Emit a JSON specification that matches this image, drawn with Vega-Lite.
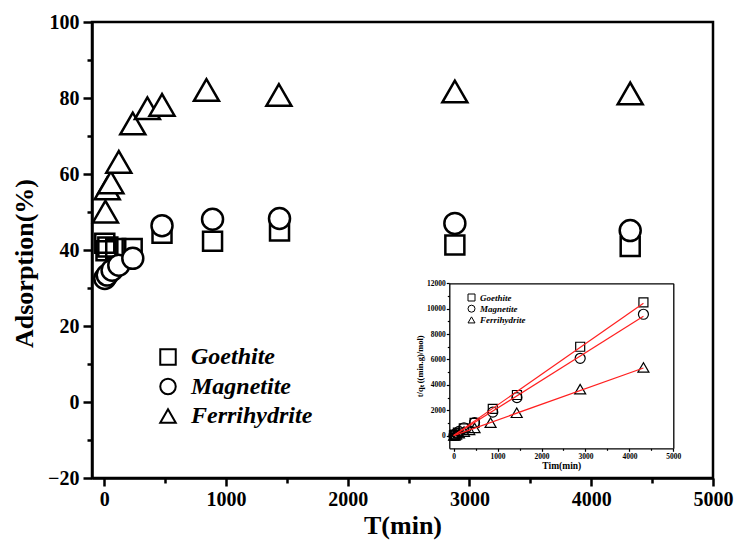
{
  "$schema": "https://vega.github.io/schema/vega-lite/v6.json",
  "width": 621,
  "height": 456,
  "autosize": {"type": "none"},
  "padding": {"left": 92, "top": 22, "right": 22, "bottom": 67},
  "background": "white",
  "config": {
    "view": {"stroke": "black", "strokeWidth": 2.5},
    "font": "Liberation Serif",
    "axis": {
      "grid": false,
      "domainColor": "black",
      "tickColor": "black",
      "labelColor": "black",
      "titleColor": "black",
      "labelFont": "Liberation Serif",
      "titleFont": "Liberation Serif",
      "labelFontWeight": "bold",
      "titleFontWeight": "bold",
      "labelFlush": false,
      "labelOverlap": false
    }
  },
  "datasets": {
    "main": [
      {"mineral": "Goethite", "t": 5, "ads": 41.8},
      {"mineral": "Goethite", "t": 15, "ads": 39.8},
      {"mineral": "Goethite", "t": 30, "ads": 40.8},
      {"mineral": "Goethite", "t": 95, "ads": 40.4},
      {"mineral": "Goethite", "t": 230, "ads": 40.4},
      {"mineral": "Goethite", "t": 475, "ads": 44.4},
      {"mineral": "Goethite", "t": 890, "ads": 42.3},
      {"mineral": "Goethite", "t": 1440, "ads": 45.0},
      {"mineral": "Goethite", "t": 2880, "ads": 41.3},
      {"mineral": "Goethite", "t": 4320, "ads": 40.9},
      {"mineral": "Magnetite", "t": 5, "ads": 32.5},
      {"mineral": "Magnetite", "t": 25, "ads": 33.4},
      {"mineral": "Magnetite", "t": 65, "ads": 34.7},
      {"mineral": "Magnetite", "t": 120, "ads": 36.0},
      {"mineral": "Magnetite", "t": 235, "ads": 37.8},
      {"mineral": "Magnetite", "t": 475, "ads": 46.4},
      {"mineral": "Magnetite", "t": 890, "ads": 48.1},
      {"mineral": "Magnetite", "t": 1440, "ads": 48.3},
      {"mineral": "Magnetite", "t": 2880, "ads": 47.0},
      {"mineral": "Magnetite", "t": 4320, "ads": 45.1},
      {"mineral": "Ferrihydrite", "t": 10, "ads": 50.1},
      {"mineral": "Ferrihydrite", "t": 25, "ads": 56.2},
      {"mineral": "Ferrihydrite", "t": 55, "ads": 57.8},
      {"mineral": "Ferrihydrite", "t": 120, "ads": 63.2},
      {"mineral": "Ferrihydrite", "t": 235, "ads": 73.3},
      {"mineral": "Ferrihydrite", "t": 355, "ads": 77.3},
      {"mineral": "Ferrihydrite", "t": 475, "ads": 78.2},
      {"mineral": "Ferrihydrite", "t": 840, "ads": 82.1},
      {"mineral": "Ferrihydrite", "t": 1435, "ads": 80.8},
      {"mineral": "Ferrihydrite", "t": 2880, "ads": 81.7},
      {"mineral": "Ferrihydrite", "t": 4320, "ads": 81.2}
    ],
    "inset": [
      {"mineral": "Goethite", "t": 5, "q": 12},
      {"mineral": "Goethite", "t": 15, "q": 38},
      {"mineral": "Goethite", "t": 30, "q": 74},
      {"mineral": "Goethite", "t": 95, "q": 235},
      {"mineral": "Goethite", "t": 230, "q": 570},
      {"mineral": "Goethite", "t": 475, "q": 1000},
      {"mineral": "Goethite", "t": 890, "q": 2100},
      {"mineral": "Goethite", "t": 1440, "q": 3200},
      {"mineral": "Goethite", "t": 2880, "q": 7000},
      {"mineral": "Goethite", "t": 4320, "q": 10500},
      {"mineral": "Magnetite", "t": 5, "q": 15},
      {"mineral": "Magnetite", "t": 25, "q": 75},
      {"mineral": "Magnetite", "t": 65, "q": 187},
      {"mineral": "Magnetite", "t": 120, "q": 333},
      {"mineral": "Magnetite", "t": 235, "q": 620},
      {"mineral": "Magnetite", "t": 475, "q": 1030},
      {"mineral": "Magnetite", "t": 890, "q": 1850},
      {"mineral": "Magnetite", "t": 1440, "q": 3000},
      {"mineral": "Magnetite", "t": 2880, "q": 6090},
      {"mineral": "Magnetite", "t": 4320, "q": 9560},
      {"mineral": "Ferrihydrite", "t": 10, "q": 20},
      {"mineral": "Ferrihydrite", "t": 25, "q": 45},
      {"mineral": "Ferrihydrite", "t": 55, "q": 95},
      {"mineral": "Ferrihydrite", "t": 120, "q": 190},
      {"mineral": "Ferrihydrite", "t": 235, "q": 320},
      {"mineral": "Ferrihydrite", "t": 355, "q": 460},
      {"mineral": "Ferrihydrite", "t": 475, "q": 610},
      {"mineral": "Ferrihydrite", "t": 840, "q": 1020},
      {"mineral": "Ferrihydrite", "t": 1435, "q": 1800},
      {"mineral": "Ferrihydrite", "t": 2880, "q": 3660},
      {"mineral": "Ferrihydrite", "t": 4320, "q": 5370}
    ],
    "fit": [
      {"mineral": "Goethite", "t": 0, "q": 0},
      {"mineral": "Goethite", "t": 4320, "q": 10420},
      {"mineral": "Magnetite", "t": 0, "q": 0},
      {"mineral": "Magnetite", "t": 4320, "q": 9400},
      {"mineral": "Ferrihydrite", "t": 0, "q": 0},
      {"mineral": "Ferrihydrite", "t": 4320, "q": 5330}
    ]
  },
  "layer": [
    {
      "data": {"name": "main"},
      "layer": [
        {
          "transform": [{"filter": "datum.mineral === 'Goethite'"}],
          "mark": {"type": "point", "filled": false, "stroke": "black", "strokeWidth": 2.5, "opacity": 1, "size": 361},
          "encoding": {
            "x": {
              "field": "t", "type": "quantitative",
              "scale": {"domain": [-100, 5000], "nice": false, "zero": false},
              "axis": {"orient": "bottom", "values": [0, 1000, 2000, 3000, 4000, 5000], "format": "d", "title": "T(min)", "titleFontSize": 26, "labelFontSize": 20, "domainWidth": 2.5, "tickWidth": 2.5, "tickSize": 8, "labelPadding": 3, "titlePadding": 3}
            },
            "y": {
              "field": "ads", "type": "quantitative",
              "scale": {"domain": [-20, 100], "nice": false, "zero": false},
              "axis": {"orient": "left", "values": [-20, 0, 20, 40, 60, 80, 100], "title": "Adsorption(%)", "titleY": 241, "titleFontSize": 26, "labelFontSize": 20, "domainWidth": 2.5, "tickWidth": 2.5, "tickSize": 9, "labelPadding": 4, "titlePadding": 10}
            },
            "shape": {
              "field": "mineral", "type": "nominal",
              "scale": {"domain": ["Goethite", "Magnetite", "Ferrihydrite"], "range": ["square", "circle", "triangle-up"]},
              "legend": {
                "orient": "none", "legendX": 64, "legendY": 323, "title": null, "padding": 0,
                "labelFont": "Liberation Serif", "labelFontSize": 24, "labelFontStyle": "italic", "labelFontWeight": "bold", "labelColor": "black",
                "symbolSize": 240, "symbolFillColor": "white", "symbolStrokeColor": "black", "symbolStrokeWidth": 2, "symbolOpacity": 1, "rowPadding": 5.5, "labelOffset": 11,
                "encode": {"symbols": {"update": {"size": {"value": 240}, "opacity": {"value": 1}, "fill": {"value": "white"}, "stroke": {"value": "black"}, "strokeWidth": {"value": 2}}}}
              }
            }
          }
        },
        {
          "transform": [{"filter": "datum.mineral === 'Magnetite'"}],
          "mark": {"type": "point", "filled": false, "fill": "white", "fillOpacity": 1, "stroke": "black", "strokeWidth": 2.5, "opacity": 1, "size": 441},
          "encoding": {
            "x": {"field": "t", "type": "quantitative", "axis": null},
            "y": {"field": "ads", "type": "quantitative", "axis": null},
            "shape": {"field": "mineral", "type": "nominal", "legend": null}
          }
        },
        {
          "transform": [{"filter": "datum.mineral === 'Ferrihydrite'"}],
          "mark": {"type": "point", "filled": false, "fill": "white", "fillOpacity": 1, "stroke": "black", "strokeWidth": 2.5, "opacity": 1, "size": 625},
          "encoding": {
            "x": {"field": "t", "type": "quantitative", "axis": null},
            "y": {"field": "ads", "type": "quantitative", "axis": null},
            "shape": {"field": "mineral", "type": "nominal", "legend": null}
          }
        },
        {
          "mark": {"type": "point", "opacity": 0},
          "encoding": {
            "x": {"field": "t", "type": "quantitative", "axis": {"orient": "bottom", "values": [500, 1500, 2500, 3500, 4500], "labels": false, "title": null, "domain": false, "tickSize": 5, "tickWidth": 2.5}},
            "y": {"field": "ads", "type": "quantitative", "axis": {"orient": "left", "values": [-10, 10, 30, 50, 70, 90], "labels": false, "title": null, "domain": false, "tickSize": 5, "tickWidth": 2.5}}
          }
        }
      ],
      "resolve": {"axis": {"x": "independent", "y": "independent"}}
    },
    {
      "layer": [
        {
          "data": {"name": "inset"},
          "transform": [{"filter": "datum.mineral === 'Goethite'"}],
          "mark": {"type": "point", "filled": false, "stroke": "black", "strokeWidth": 1.2, "opacity": 1, "size": 81},
          "encoding": {
            "x": {
              "field": "t", "type": "quantitative",
              "scale": {"domain": [-100, 5000], "range": [357.3, 581.3], "nice": false, "zero": false},
              "axis": {"orient": "bottom", "offset": -29.7, "values": [0, 1000, 2000, 3000, 4000, 5000], "format": "d", "title": "Tim(min)", "titleFontSize": 9.5, "labelFontSize": 7.5, "domainWidth": 1.3, "tickWidth": 1.2, "tickSize": 3, "labelPadding": 1, "titlePadding": 1}
            },
            "y": {
              "field": "q", "type": "quantitative",
              "scale": {"domain": [-1000, 12000], "range": [426.3, 261.3], "nice": false, "zero": false},
              "axis": {"orient": "left", "offset": -357.3, "values": [0, 2000, 4000, 6000, 8000, 10000, 12000], "format": "d", "title": "t/qₜ ((min.g)/mol)", "titleFontSize": 8.5, "labelFontSize": 7.5, "domainWidth": 1.3, "tickWidth": 1.2, "tickSize": 3, "labelPadding": 1, "titlePadding": 2}
            },
            "shape": {
              "field": "mineral", "type": "nominal",
              "scale": {"domain": ["Goethite", "Magnetite", "Ferrihydrite"], "range": ["square", "circle", "triangle-up"]},
              "legend": {"orient": "none", "legendX": 375, "legendY": 271, "title": null, "padding": 0, "labelFont": "Liberation Serif", "labelFontSize": 9, "labelFontStyle": "italic", "labelFontWeight": "bold", "labelColor": "black", "symbolSize": 49, "symbolFillColor": "white", "symbolStrokeColor": "black", "symbolStrokeWidth": 1, "rowPadding": 0.2, "labelOffset": 4}
            }
          }
        },
        {
          "data": {"name": "inset"},
          "transform": [{"filter": "datum.mineral === 'Magnetite'"}],
          "mark": {"type": "point", "filled": false, "stroke": "black", "strokeWidth": 1.2, "opacity": 1, "size": 100},
          "encoding": {
            "x": {"field": "t", "type": "quantitative", "axis": null},
            "y": {"field": "q", "type": "quantitative", "axis": null},
            "shape": {"field": "mineral", "type": "nominal"}
          }
        },
        {
          "data": {"name": "inset"},
          "transform": [{"filter": "datum.mineral === 'Ferrihydrite'"}],
          "mark": {"type": "point", "filled": false, "stroke": "black", "strokeWidth": 1.2, "opacity": 1, "size": 121},
          "encoding": {
            "x": {"field": "t", "type": "quantitative", "axis": null},
            "y": {"field": "q", "type": "quantitative", "axis": null},
            "shape": {"field": "mineral", "type": "nominal"}
          }
        },
        {
          "data": {"name": "fit"},
          "mark": {"type": "line", "color": "#ff2020", "strokeWidth": 1.2},
          "encoding": {
            "x": {"field": "t", "type": "quantitative", "axis": {"orient": "bottom", "offset": -29.7, "values": [500, 1500, 2500, 3500, 4500], "labels": false, "title": null, "domain": false, "tickSize": 2, "tickWidth": 1.2}},
            "y": {"field": "q", "type": "quantitative", "axis": {"orient": "left", "offset": -357.3, "values": [1000, 3000, 5000, 7000, 9000, 11000], "labels": false, "title": null, "domain": false, "tickSize": 2, "tickWidth": 1.2}},
            "detail": {"field": "mineral", "type": "nominal"}
          }
        },
        {
          "data": {"name": "inset"},
          "mark": {"type": "point", "opacity": 0},
          "encoding": {
            "x": {"field": "t", "type": "quantitative", "axis": {"orient": "top", "offset": -261.3, "labels": false, "ticks": false, "title": null, "domainWidth": 1.3}},
            "y": {"field": "q", "type": "quantitative", "axis": {"orient": "right", "offset": -39.7, "labels": false, "ticks": false, "title": null, "domainWidth": 1.3}}
          }
        }
      ],
      "resolve": {"axis": {"x": "independent", "y": "independent"}}
    }
  ],
  "resolve": {
    "scale": {"x": "independent", "y": "independent", "shape": "independent"},
    "axis": {"x": "independent", "y": "independent"},
    "legend": {"shape": "independent"}
  }
}
